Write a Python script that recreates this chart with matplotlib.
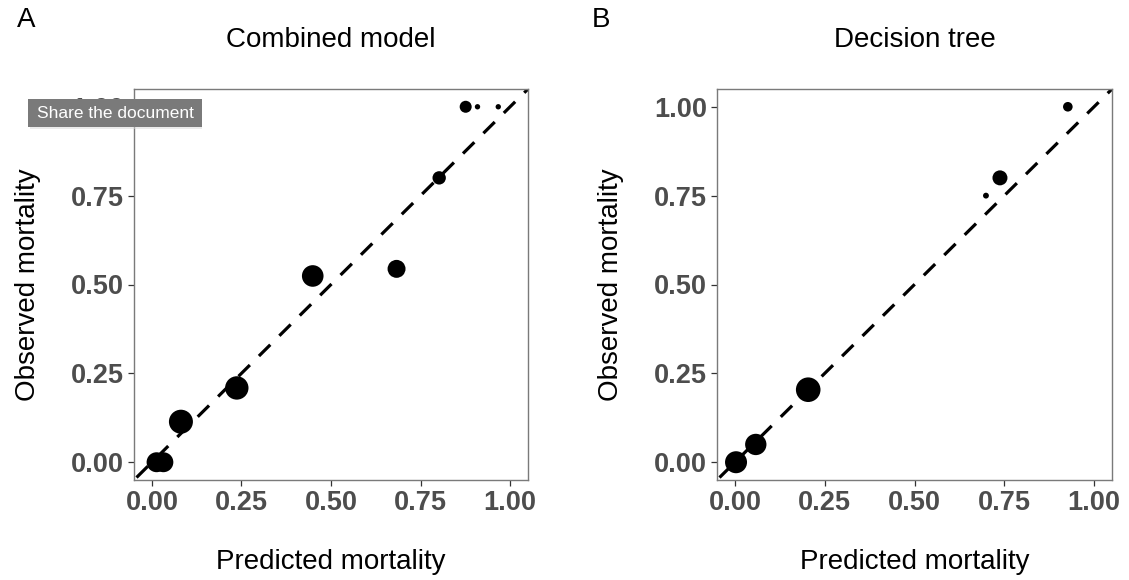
import matplotlib
matplotlib.use("Agg")
import matplotlib.pyplot as plt
import numpy as np

# ---- data ----
combined_pred = [0.013, 0.032, 0.081, 0.237, 0.449, 0.683, 0.802, 0.876, 0.909, 0.967]
combined_obs = [0.0, 0.0, 0.114, 0.209, 0.524, 0.544, 0.800, 1.0, 1.0, 1.0]
combined_n = [69, 69, 100, 95, 81, 56, 31, 25, 5, 5]

tree_pred = [0.003, 0.058, 0.204, 0.699, 0.738, 0.927]
tree_obs = [0.0, 0.050, 0.204, 0.750, 0.800, 1.0]
tree_n = [84, 79, 105, 6, 39, 16]

ticks = [0.0, 0.25, 0.50, 0.75, 1.00]
tick_labels = ["0.00", "0.25", "0.50", "0.75", "1.00"]
titles = ["Combined model", "Decision tree"]
panel_tags = ["A", "B"]

FONT = "Liberation Sans"
plt.rcParams["font.family"] = [FONT, "DejaVu Sans"]

fig = plt.figure(figsize=(11.29, 5.80), dpi=100)

W, H = 1129, 580
boxes = [(134, 89, 528, 480), (717, 89, 1112, 480)]
datasets = [(combined_pred, combined_obs, combined_n), (tree_pred, tree_obs, tree_n)]

def px_to_pt_area(r_px):
    d_pt = 2 * r_px * 72 / 100
    return d_pt ** 2

for i, ((x0, y0, x1, y1), (xp, yo, nn)) in enumerate(zip(boxes, datasets)):
    ax = fig.add_axes([x0 / W, 1 - y1 / H, (x1 - x0) / W, (y1 - y0) / H])
    ax.set_xlim(-0.05, 1.05)
    ax.set_ylim(-0.05, 1.05)
    ax.plot([-0.1, 1.1], [-0.1, 1.1], color="black", lw=2.3,
            linestyle=(0, (5, 4)), zorder=2, solid_capstyle="butt")
    r = 12 * np.sqrt(np.array(nn) / 100.0)
    ax.scatter(xp, yo, s=px_to_pt_area(r), color="black", edgecolors="none",
               zorder=3, clip_on=False)
    ax.set_xticks(ticks)
    ax.set_xticklabels(tick_labels)
    ax.set_yticks(ticks)
    ax.set_yticklabels(tick_labels)
    ax.tick_params(axis="both", which="major", length=4, width=0.9, color="#333333",
                   labelsize=19.5, labelcolor="#4D4D4D", pad=3)
    for lab in ax.get_xticklabels() + ax.get_yticklabels():
        lab.set_fontweight("bold")
    for sp in ax.spines.values():
        sp.set_color("#7a7a7a")
        sp.set_linewidth(1.0)
    ax.set_xlabel("Predicted mortality", fontsize=20, labelpad=24, color="black")
    ax.set_ylabel("Observed mortality", fontsize=20, labelpad=22, color="black")
    ax.set_title(titles[i], fontsize=20, pad=30)
    fig.text((26 if i == 0 else 601) / W, 1 - 20 / H, panel_tags[i], fontsize=20,
             ha="center", va="center")

# UI overlay seen in the reference
fig.patches.append(matplotlib.patches.FancyBboxPatch((30 / W, 1 - 129 / H), 172 / W, 28 / H,
                   boxstyle="square,pad=0", transform=fig.transFigure,
                   facecolor="#d8d8d8", edgecolor="none", alpha=0.5, zorder=9))
fig.patches.append(matplotlib.patches.Rectangle((28 / W, 1 - 127 / H), 174 / W, 28 / H,
                   transform=fig.transFigure, facecolor="#7a7a7a", edgecolor="none",
                   zorder=10))
fig.text(115 / W, 1 - 113.5 / H, "Share the document", fontsize=12.5, color="white",
         ha="center", va="center", zorder=11)

fig.savefig("out.png", dpi=100)
